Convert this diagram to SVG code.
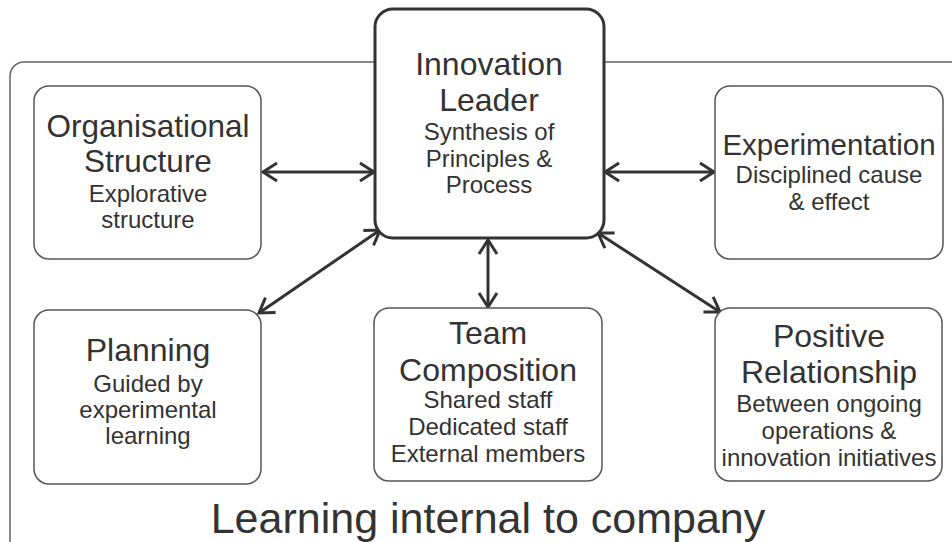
<svg xmlns="http://www.w3.org/2000/svg" width="952" height="542" viewBox="0 0 952 542">
<defs>
<style>
.box{fill:#fff;stroke:#555;stroke-width:1.5}
.lead{fill:#fff;stroke:#333;stroke-width:3}
.t{font-family:"Liberation Sans",Arial,sans-serif;fill:#333;text-anchor:middle}
.h{font-size:32px}
.s{font-size:24px}
.big{font-size:43px}
.c{fill:none;stroke:#333;stroke-width:3}
</style>
<marker id="ah" viewBox="0 0 18 22" refX="16" refY="11" markerWidth="18" markerHeight="22" markerUnits="userSpaceOnUse" orient="auto-start-reverse">
<path d="M2,2 L16,11 L2,20" fill="none" stroke="#333" stroke-width="3"/>
</marker>
</defs>
<rect width="952" height="542" fill="#fff"/>
<g id="container">
<rect x="10" y="62" width="970" height="510" rx="14" fill="none" stroke="#666" stroke-width="1.5"/>
<text class="t big" x="488" y="533">Learning internal to company</text>
</g>
<g id="connectors">
<line class="c" x1="263" y1="172" x2="374" y2="172" marker-start="url(#ah)" marker-end="url(#ah)"/>
<line class="c" x1="605" y1="172" x2="714" y2="172" marker-start="url(#ah)" marker-end="url(#ah)"/>
<line class="c" x1="380" y1="230" x2="259" y2="313" marker-start="url(#ah)" marker-end="url(#ah)"/>
<line class="c" x1="488" y1="240" x2="488" y2="307" marker-start="url(#ah)" marker-end="url(#ah)"/>
<line class="c" x1="598" y1="233" x2="720" y2="312" marker-start="url(#ah)" marker-end="url(#ah)"/>
</g>
<g id="innovation-leader">
<rect class="lead" x="375" y="9" width="229" height="229" rx="18"/>
<text class="t h" x="489" y="75">Innovation</text>
<text class="t h" x="489" y="111">Leader</text>
<text class="t s" x="489" y="140">Synthesis of</text>
<text class="t s" x="489" y="167">Principles &amp;</text>
<text class="t s" x="489" y="193">Process</text>
</g>
<g id="organisational-structure">
<rect class="box" x="34" y="86" width="227" height="173" rx="15"/>
<text class="t h" x="148" y="137" style="font-size:31.5px">Organisational</text>
<text class="t h" x="148" y="172" style="font-size:31.5px">Structure</text>
<text class="t s" x="148" y="202">Explorative</text>
<text class="t s" x="148" y="228">structure</text>
</g>
<g id="experimentation">
<rect class="box" x="715" y="86" width="228" height="173" rx="15"/>
<text class="t h" x="829" y="155" style="font-size:29.5px">Experimentation</text>
<text class="t s" x="829" y="183">Disciplined cause</text>
<text class="t s" x="829" y="210">&amp; effect</text>
</g>
<g id="planning">
<rect class="box" x="34" y="310" width="227" height="174" rx="15"/>
<text class="t h" x="148" y="361">Planning</text>
<text class="t s" x="148" y="392">Guided by</text>
<text class="t s" x="148" y="418">experimental</text>
<text class="t s" x="148" y="444">learning</text>
</g>
<g id="team-composition">
<rect class="box" x="374" y="308" width="228" height="173" rx="15"/>
<text class="t h" x="488" y="344">Team</text>
<text class="t h" x="488" y="381">Composition</text>
<text class="t s" x="488" y="408">Shared staff</text>
<text class="t s" x="488" y="435">Dedicated staff</text>
<text class="t s" x="488" y="462">External members</text>
</g>
<g id="positive-relationship">
<rect class="box" x="715" y="308" width="227" height="173" rx="15"/>
<text class="t h" x="829" y="347">Positive</text>
<text class="t h" x="829" y="383">Relationship</text>
<text class="t s" x="829" y="412">Between ongoing</text>
<text class="t s" x="829" y="439">operations &amp;</text>
<text class="t s" x="829" y="466">innovation initiatives</text>
</g>
</svg>
